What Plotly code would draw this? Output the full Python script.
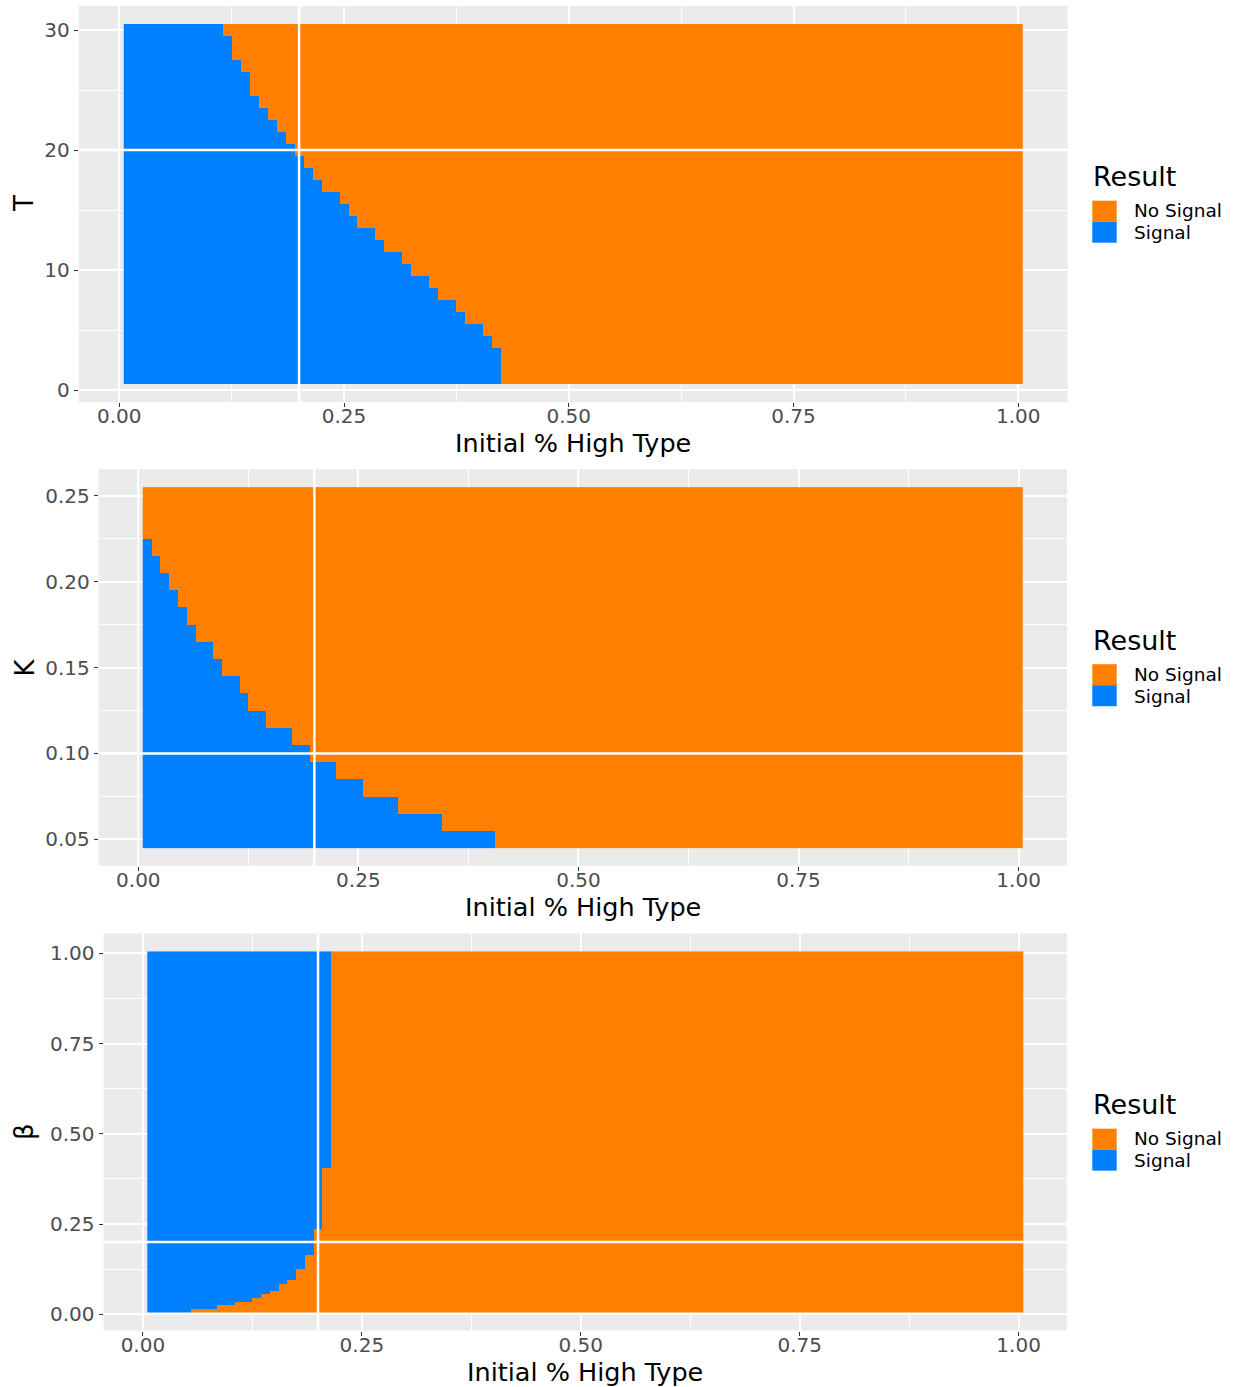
import plotly.graph_objects as go

# ---------------- data ----------------
# x: initial share of high type, 0.01 .. 1.00
x_share = [round(i / 100, 2) for i in range(1, 101)]

# Panel 1: T = 1..30 -> largest initial share that still gives "Signal"
T_vals = list(range(1, 31))
T_thresh = [0.42, 0.42, 0.42, 0.41, 0.40, 0.38, 0.37, 0.35, 0.34, 0.32,
            0.31, 0.29, 0.28, 0.26, 0.25, 0.24, 0.22, 0.21, 0.20, 0.19,
            0.18, 0.17, 0.16, 0.15, 0.14, 0.14, 0.13, 0.12, 0.12, 0.11]

# Panel 2: K = 0.05..0.25
K_vals = [0.05, 0.06, 0.07, 0.08, 0.09, 0.10, 0.11, 0.12, 0.13, 0.14, 0.15,
          0.16, 0.17, 0.18, 0.19, 0.20, 0.21, 0.22, 0.23, 0.24, 0.25]
K_thresh = [0.40, 0.34, 0.29, 0.25, 0.22, 0.19, 0.17, 0.14, 0.12, 0.11, 0.09,
            0.08, 0.06, 0.05, 0.04, 0.03, 0.02, 0.01, 0.00, 0.00, 0.00]

# Panel 3: beta = 0.01..1.00
B_vals = [round(i / 100, 2) for i in range(1, 101)]
B_thresh = ([0.05, 0.08, 0.10, 0.12, 0.13, 0.14, 0.15, 0.15, 0.16]
            + [0.17] * 3 + [0.18] * 4 + [0.19] * 7 + [0.20] * 17 + [0.21] * 60)

y_titles = ["T", "K", "\u03b2"]
x_title = "Initial % High Type"
legend_title = "Result"
legend_labels = ["No Signal", "Signal"]

x_ticks = [0.0, 0.25, 0.5, 0.75, 1.0]
T_ticks = [0, 10, 20, 30]
K_ticks = [0.05, 0.10, 0.15, 0.20, 0.25]
B_ticks = [0.0, 0.25, 0.5, 0.75, 1.0]

ref_x = 0.2
ref_y = [20, 0.10, 0.20]

# ---------------- styling ----------------
W, H = 1247, 1387
ORANGE = "#FF7F00"
BLUE = "#007FFF"
FONT = "DejaVu Sans"
TICK_COLOR = "#4D4D4D"

# panel boxes in pixels (left, right, top, bottom)
panels = [
    (78.8, 1067.7, 6.0, 402.0),
    (98.7, 1067.0, 469.1, 865.9),
    (103.5, 1066.8, 933.4, 1330.5),
]
y_ranges = [[-1, 32], [0.0345, 0.2655], [-0.045, 1.055]]
x_range = [-0.045, 1.055]


def px_x(p):
    return p / W


def px_y(p):
    return 1 - p / H


def build_z(yvals, thresh):
    z = []
    for t in thresh:
        lim = round(t * 100)
        z.append([1 if round(xv * 100) <= lim else 0 for xv in x_share])
    return z


fig = go.Figure()
data_sets = [(T_vals, T_thresh), (K_vals, K_thresh), (B_vals, B_thresh)]
for i, (yv, th) in enumerate(data_sets):
    suffix = "" if i == 0 else str(i + 1)
    fig.add_trace(go.Heatmap(
        x=x_share, y=yv, z=build_z(yv, th),
        zmin=0, zmax=1,
        colorscale=[[0, ORANGE], [0.5, ORANGE], [0.5, BLUE], [1, BLUE]],
        showscale=False, xgap=0, ygap=0,
        xaxis="x" + suffix, yaxis="y" + suffix,
        hovertemplate="x=%{x}<br>y=%{y}<extra></extra>",
    ))

layout = dict(
    width=W, height=H,
    margin=dict(l=0, r=0, t=0, b=0, pad=0),
    paper_bgcolor="white",
    plot_bgcolor="#EBEBEB",
    showlegend=False,
    font=dict(family=FONT, color=TICK_COLOR),
)

y_tick_sets = [
    (T_ticks, [str(v) for v in T_ticks], 5),
    (K_ticks, ["%.2f" % v for v in K_ticks], 0.025),
    (B_ticks, ["%.2f" % v for v in B_ticks], 0.125),
]

shapes = []
annotations = []
for i, (l, r, t, b) in enumerate(panels):
    suffix = "" if i == 0 else str(i + 1)
    common = dict(
        showgrid=True, gridcolor="white", gridwidth=2,
        zeroline=False, showline=False,
        ticks="outside", ticklen=4, tickwidth=1.1, tickcolor="#333333",
        tickfont=dict(family=FONT, size=20, color=TICK_COLOR),
        fixedrange=True,
    )
    layout["xaxis" + suffix] = dict(
        domain=[px_x(l), px_x(r)], range=x_range,
        anchor="y" + suffix,
        tickmode="array", tickvals=x_ticks,
        ticktext=["%.2f" % v for v in x_ticks],
        ticklabelstandoff=-8,
        minor=dict(tickmode="array", tickvals=[0.125, 0.375, 0.625, 0.875],
                   showgrid=True, gridcolor="white", gridwidth=1),
        **common,
    )
    tv, tt, minor_step = y_tick_sets[i]
    lo, hi = y_ranges[i]
    minors = []
    v = tv[0] - minor_step
    while v <= hi:
        if v >= lo and all(abs(v - m) > 1e-9 for m in tv):
            minors.append(round(v, 4))
        v += minor_step
    layout["yaxis" + suffix] = dict(
        domain=[px_y(b), px_y(t)], range=y_ranges[i],
        anchor="x" + suffix,
        tickmode="array", tickvals=tv, ticktext=tt,
        minor=dict(tickmode="array", tickvals=minors,
                   showgrid=True, gridcolor="white", gridwidth=1),
        **common,
    )
    xr = "x" + suffix
    yr = "y" + suffix
    # reference lines
    shapes.append(dict(type="line", xref=xr, yref=yr + " domain",
                       x0=ref_x, x1=ref_x, y0=0, y1=1,
                       line=dict(color="white", width=2.5), layer="above"))
    shapes.append(dict(type="line", xref=xr + " domain", yref=yr,
                       x0=0, x1=1, y0=ref_y[i], y1=ref_y[i],
                       line=dict(color="white", width=2.5), layer="above"))

    # x title
    annotations.append(dict(
        text=x_title, xref="paper", yref="paper",
        x=px_x((l + r) / 2), y=px_y(b + 41.0),
        xanchor="center", yanchor="middle", showarrow=False,
        font=dict(family=FONT, size=25.5, color="black")))
    # y title
    annotations.append(dict(
        text=y_titles[i], xref="paper", yref="paper",
        x=px_x(24), y=px_y((t + b) / 2), textangle=-90,
        xanchor="center", yanchor="middle", showarrow=False,
        font=dict(family=FONT, size=26, color="black")))

    # legend (Result)
    cy = (t + b) / 2
    annotations.append(dict(
        text=legend_title, xref="paper", yref="paper",
        x=px_x(1090.5), y=px_y(cy - 27.5),
        xanchor="left", yanchor="middle", showarrow=False,
        font=dict(family=FONT, size=27, color="black")))
    key_cols = [ORANGE, BLUE]
    label_shift = [-0.6, 0.6]
    for k, lab in enumerate(legend_labels):
        k_top = cy - 3.3 + 21 * k
        shapes.append(dict(type="rect", xref="paper", yref="paper",
                           x0=px_x(1092.3), x1=px_x(1116.7),
                           y0=px_y(k_top + 21), y1=px_y(k_top),
                           fillcolor=key_cols[k], line=dict(width=0)))
        annotations.append(dict(
            text=lab, xref="paper", yref="paper",
            x=px_x(1131.5), y=px_y(k_top + 10.5 + label_shift[k]),
            xanchor="left", yanchor="middle", showarrow=False,
            font=dict(family=FONT, size=18.5, color="black")))

layout["shapes"] = shapes
layout["annotations"] = annotations
fig.update_layout(**layout)

fig.write_html("out.html", config={"displayModeBar": False},
               post_script="document.body.style.margin='0';")
